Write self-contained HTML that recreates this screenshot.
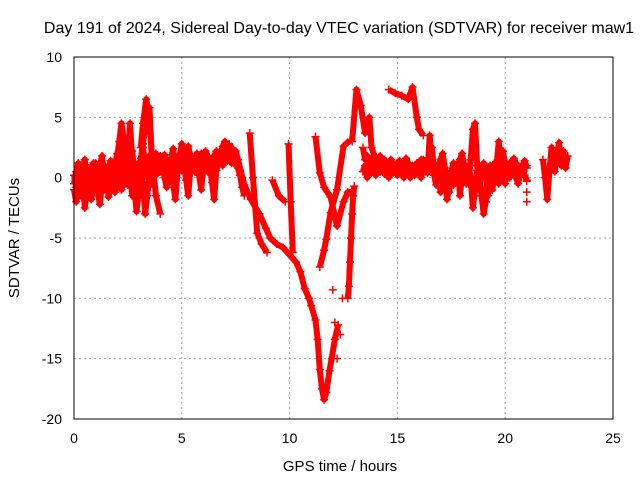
<!DOCTYPE html>
<html><head><meta charset="utf-8"><title>SDTVAR maw1</title>
<style>
html,body{margin:0;padding:0;background:#fff;}
svg{display:block;font-family:"Liberation Sans",sans-serif;}
</style></head>
<body>
<svg id="chart" width="640" height="480" viewBox="0 0 640 480">
<rect width="640" height="480" fill="#fff"/>
<text x="339" y="33" font-size="16" text-anchor="middle" fill="#000">Day 191 of 2024, Sidereal Day-to-day VTEC variation (SDTVAR) for receiver maw1</text>
<g id="grid"></g>
<g id="marks"></g>
<rect x="74" y="57" width="539" height="362" fill="none" stroke="#000" stroke-width="1"/>
<g id="axes"></g>
<text x="340" y="471" font-size="15" text-anchor="middle">GPS time / hours</text>
<text transform="translate(19,238) rotate(-90)" font-size="15" text-anchor="middle">SDTVAR / TECUs</text>
</svg>
<script>
const xTicks = [0,5,10,15,20,25];
const yTicks = [10,5,0,-5,-10,-15,-20];
// dense band 0-8h, sampled every 0.1 h starting at 0
const bandStart = 0;
const bandA = [-0.5,0.5,1.2,-0.8,0.4,1.5,-0.2,0.8,-1.5,0.6,1.2,-0.5,0.9,1.8,0.2,-1.0,0.7,1.4,-0.3,1.0,2.0,0.5,3.5,1.0,-0.5,1.5,0.8,2.2,0.4,-1.0,1.2,0.3,2.5,1.0,0.0,1.8,0.6,1.5,2.0,1.2,1.6,0.8,1.9,1.2,0.5,1.5,1.8,1.0,0.6,1.4,1.7,0.9,2.2,2.6,1.8,1.0,1.5,0.8,1.2,2.0,1.6,1.0,1.8,1.2,0.6,1.5,1.9,1.1,1.8,2.4,2.0,2.6,2.2,1.6,2.3,1.8,1.2,0.6,-0.4,-1.2];
const bandB = [-1.0,-2.0,-0.5,-1.5,0.0,-2.5,-1.0,-0.3,-1.8,-0.6,0.2,-1.2,-2.2,-0.4,-1.0,0.5,-1.6,-0.8,0.0,-1.2,-0.5,0.8,-1.0,-0.2,1.0,-0.6,0.4,-1.5,-0.8,-2.8,-1.2,0.2,-0.5,-3.0,-1.5,0.5,-0.5,0.8,0.2,1.0,0.5,1.2,0.0,-0.8,0.6,1.0,-0.5,-1.8,0.4,1.0,0.6,1.2,-0.2,-1.5,0.8,1.2,0.5,1.0,0.2,-1.0,0.8,1.2,0.5,1.0,-0.4,-1.8,0.6,1.2,1.6,1.0,2.0,1.4,2.4,1.8,1.2,2.2,1.5,0.6,0.0,-0.8];
const bandC = [0.2,-0.8,0.8,1.0,-1.2,0.0,0.9,-0.6,0.4,1.2,-0.2,0.6,-0.8,0.4,1.0,-0.4,0.5,-0.2,1.2,0.0,0.8,-0.5,1.5,0.2,0.8,2.0,4.5,1.5,0.0,1.0,-0.5,1.6,2.8,4.0,5.5,5.8,2.0,0.5,1.6,1.0,1.8,1.2,0.6,1.4,0.8,1.6,2.4,1.0,0.4,1.8,2.8,2.0,1.2,1.6,0.6,1.0,1.4,2.0,1.6,1.0,1.4,2.2,1.8,1.2,1.0,1.8,2.2,1.5,2.0,2.6,3.0,2.4,1.8,1.2,2.0,1.5,0.8,0.2,-0.8,-1.5];
// right band 13.4-21h, every 0.1 h
const rightStart = 13.4;
const rightA = [2.5,1.5,1.8,1.0,1.6,1.2,0.6,1.4,1.8,1.0,1.5,1.2,0.8,1.5,1.0,0.6,1.2,1.4,0.8,1.0,1.6,1.2,0.6,1.0,0.4,1.2,0.8,1.5,1.0,0.5,1.2,0.8,2.5,0.6,1.0,0.5,1.5,2.0,0.8,-0.5,-1.2,0.5,1.2,0.8,-0.5,1.5,2.0,1.0,0.5,-0.5,1.5,4.0,4.5,1.0,-1.0,0.5,1.2,0.8,-1.5,1.0,0.5,1.2,0.4,-0.5,1.5,2.2,1.0,0.6,1.2,0.8,1.6,1.2,0.8,0.5,1.0,1.4,0.8];
const rightB = [0.5,1.0,0.0,0.8,0.4,1.2,0.2,0.6,0.5,1.0,0.3,0.8,0.0,0.6,0.4,1.0,0.2,0.7,0.5,0.0,0.8,0.4,0.0,0.6,0.2,0.8,0.4,0.0,1.5,0.8,0.4,3.5,1.0,0.2,-0.6,0.5,-1.2,0.2,0.6,-1.8,-0.8,0.4,-0.6,0.8,1.2,-1.5,0.2,0.8,-0.5,1.0,0.0,-2.5,-1.0,0.6,0.2,-1.5,-3.0,-2.0,0.5,0.8,-1.0,0.2,1.0,3.0,1.5,0.2,-0.5,0.6,0.0,1.0,0.5,0.0,-0.5,0.4,0.8,0.2,-0.2];
// spikes & tracks
const t3 = [1.9,2.1,2.2,2.4,2.6];
const v3 = [0.5,3.0,4.5,2.0,-0.5];
const t4 = [3.1,3.2,3.35,3.5,3.6,3.8,4.0];
const v4 = [2.5,4.5,6.5,5.0,2.0,-1.5,-3.0];
const t5 = [7.2,7.6,7.9,8.2,8.6,8.9,9.1,9.4,9.7,10.0,10.3,10.5,10.7,10.9,11.0,11.2,11.3,11.4,11.5,11.6,11.7,11.85,11.95,12.1,12.25];
const v5 = [2.8,1.5,-0.6,-1.8,-3.0,-4.2,-5.0,-5.5,-5.8,-6.4,-7.0,-7.8,-9.2,-10.0,-10.6,-11.8,-13.4,-15.9,-17.5,-18.4,-17.8,-16.0,-15.0,-13.4,-12.2];
const t6 = [8.15,8.3,8.5,8.7,8.95];
const v6 = [3.7,0.0,-4.6,-5.5,-6.2];
const t6b = [9.2,9.5,9.8];
const v6b = [-0.2,-1.5,-2.0];
const t6c = [9.95,10.05,10.15];
const v6c = [2.8,-2.0,-6.2];
const t7 = [11.2,11.4,11.6,11.9,12.2,12.5,12.7,12.9];
const v7 = [3.4,0.4,-0.8,-1.6,-4.0,-2.0,-1.2,-1.2];
const t8 = [11.4,11.6,11.7,11.9,12.2,12.5,12.8];
const v8 = [-7.4,-6.0,-5.1,-2.9,-1.0,2.6,3.1];
const t8b = [12.0,12.1,12.2,12.35,12.45];
const v8b = [-9.3,-12.0,-15.0,-13.0,-10.0];
const t9 = [12.7,12.75,12.8,12.85,12.9,12.95,13.0];
const v9 = [-10.0,-9.0,-7.0,-5.0,-3.0,-1.5,-0.7];
const t10 = [12.9,13.1,13.3,13.5,13.7,13.8,14.0];
const v10 = [3.0,7.3,6.0,3.7,5.0,2.5,1.5];
const t11 = [14.6,14.9,15.2,15.5,15.7,15.9,16.0,16.2];
const v11 = [7.3,7.0,6.8,6.5,7.5,5.0,4.0,3.5];
const t14 = [21.0,21.0,21.0,21.0];
const v14 = [1.0,-0.3,-1.2,-2.0];
const t15 = [21.75,21.85,21.95,22.05,22.15,22.3,22.4,22.5,22.6,22.7,22.8,22.9];
const v15 = [1.5,0.0,-1.8,0.5,2.5,0.5,1.8,2.9,1.0,2.2,0.8,1.8];

const X0=74,X1=613,Y0=419,Y1=57;
function xs(t){return X0+(t-0)/25*(X1-X0);}
function ys(v){return Y0-(v+20)/30*(Y0-Y1);}
const NS='http://www.w3.org/2000/svg';
const grid=document.getElementById('grid'), axes=document.getElementById('axes'), marks=document.getElementById('marks');
xTicks.forEach(t=>{
  const x=xs(t);
  if(t>0&&t<25){const l=document.createElementNS(NS,'line');
    l.setAttribute('x1',x);l.setAttribute('x2',x);l.setAttribute('y1',Y1);l.setAttribute('y2',Y0);
    l.setAttribute('stroke','#a0a0a0');l.setAttribute('stroke-dasharray','2,3');
    
    
    grid.appendChild(l);}
  const tk=document.createElementNS(NS,'text');
  tk.setAttribute('x',x);tk.setAttribute('y',443);tk.setAttribute('font-size','14');tk.setAttribute('text-anchor','middle');
  tk.textContent=t;
  
  
  axes.appendChild(tk);
});
yTicks.forEach(v=>{
  const y=ys(v);
  if(v>-20&&v<10){const l=document.createElementNS(NS,'line');
    l.setAttribute('x1',X0);l.setAttribute('x2',X1);l.setAttribute('y1',y);l.setAttribute('y2',y);
    l.setAttribute('stroke','#a0a0a0');l.setAttribute('stroke-dasharray','2,3');
    
    
    grid.appendChild(l);}
  const tk=document.createElementNS(NS,'text');
  tk.setAttribute('x',62);tk.setAttribute('y',y+5);tk.setAttribute('font-size','14');tk.setAttribute('text-anchor','end');
  tk.textContent=v;
  
  
  axes.appendChild(tk);
});
function stepped(start,vals){return [vals.map((v,i)=>start+i*0.1),vals];}
const series=[stepped(bandStart,bandA),stepped(bandStart,bandB),stepped(bandStart,bandC),
  stepped(rightStart,rightA),stepped(rightStart,rightB),
  [t3,v3],[t4,v4],[t5,v5],[t6,v6],[t6b,v6b],[t6c,v6c],[t7,v7],[t8,v8],[t8b,v8b],[t9,v9],[t10,v10],[t11,v11],[t14,v14],[t15,v15]];
series.forEach(([ts,vs])=>{
  if(ts!==t14 && ts!==t8b){
    const pl=document.createElementNS(NS,'polyline');
    pl.setAttribute('points',ts.map((t,i)=>xs(t)+','+ys(vs[i])).join(' '));
    pl.setAttribute('fill','none');pl.setAttribute('stroke','#ff0000');pl.setAttribute('stroke-width','6');pl.setAttribute('stroke-linejoin','round');
    
    
    marks.appendChild(pl);
  }
  ts.forEach((t,i)=>{
    const x=xs(t),y=ys(vs[i]);
    const p=document.createElementNS(NS,'path');
    p.setAttribute('d',`M${x-4},${y}h8M${x},${y-4}v8`);
    p.setAttribute('stroke','#ff0000');p.setAttribute('stroke-width','1.5');
    
    
    marks.appendChild(p);
  });
});
</script>
</body></html>
